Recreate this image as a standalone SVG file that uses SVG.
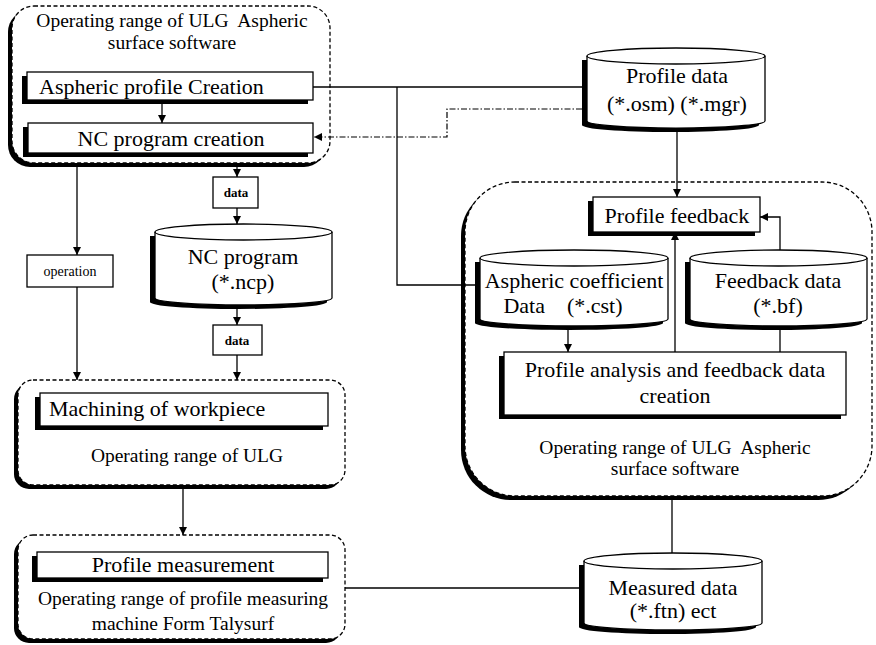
<svg xmlns="http://www.w3.org/2000/svg" width="876" height="645" viewBox="0 0 876 645">
<defs>
<marker id="arr" viewBox="0 0 10 10" refX="10" refY="5" markerWidth="8" markerHeight="8" markerUnits="userSpaceOnUse" orient="auto">
<path d="M0,0 L10,5 L0,10 Z" fill="#000"/>
</marker>
<style>
text{font-family:"Liberation Serif","Times New Roman",serif;fill:#000}
.big{font-size:22px}
.lab{font-size:19.5px}
.sm{font-size:14px}
.tag{font-size:13px;font-weight:bold}
.shadow{fill:#000}
.box{fill:#fff;stroke:#000;stroke-width:1.3}
.cont{fill:#fff;stroke:#000;stroke-width:1.3;stroke-dasharray:4 2.5}
.ln{fill:none;stroke:#000;stroke-width:1.3}
.dd{fill:none;stroke:#000;stroke-width:1.2;stroke-dasharray:6 2 1.5 2}
</style>
</defs>
<rect width="876" height="645" fill="#fff"/>

<g id="container-top">
<rect class="shadow" x="8" y="10" width="318" height="157" rx="22"/>
<rect class="cont" x="12" y="6" width="318" height="157" rx="22"/>
<text class="lab" x="172" y="27" text-anchor="middle" xml:space="preserve">Operating range of ULG  Aspheric</text>
<text class="lab" x="172" y="49" text-anchor="middle">surface software</text>
</g>
<g id="aspheric-profile-creation">
<rect class="shadow" x="22" y="76" width="286" height="28"/>
<rect class="box" x="27" y="72" width="286" height="28"/>
<text class="big" x="39" y="94">Aspheric profile Creation</text>
</g>
<g id="nc-program-creation">
<rect class="shadow" x="23" y="127" width="285" height="30"/>
<rect class="box" x="28" y="123" width="285" height="30"/>
<text class="big" x="171" y="146" text-anchor="middle">NC program creation</text>
</g>
<g id="operation">
<rect class="box" x="27" y="255" width="86" height="32"/>
<text class="sm" x="70" y="276" text-anchor="middle">operation</text>
</g>
<g id="data1">
<rect class="box" x="213" y="177" width="45" height="31"/>
<text class="tag" x="236" y="197" text-anchor="middle">data</text>
</g>
<g id="nc-program">
<path class="shadow" d="M150,236 V302 A88.5,7 0 0 0 327,302 V236 Z"/>
<path class="box" d="M155,232 V298 A88.5,7 0 0 0 332,298 V232 A88.5,8 0 0 0 155,232 Z"/>
<path class="ln" d="M155,232 A88.5,8 0 0 0 332,232"/>
<text class="big" x="243" y="264" text-anchor="middle">NC program</text>
<text class="big" x="243" y="289" text-anchor="middle">(*.ncp)</text>
</g>
<g id="data2">
<rect class="box" x="213" y="325" width="49" height="30"/>
<text class="tag" x="237" y="345" text-anchor="middle">data</text>
</g>
<g id="container-ulg">
<rect class="shadow" x="14" y="384" width="327" height="105" rx="15"/>
<rect class="cont" x="18" y="380" width="327" height="105" rx="15"/>
<text class="lab" x="187" y="462" text-anchor="middle">Operating range of ULG</text>
</g>
<g id="machining">
<rect class="shadow" x="35" y="397" width="288" height="33"/>
<rect class="box" x="40" y="393" width="288" height="33"/>
<text class="big" x="49" y="416">Machining of workpiece</text>
</g>
<g id="container-measure">
<rect class="shadow" x="14" y="539" width="327" height="104" rx="15"/>
<rect class="cont" x="18" y="535" width="327" height="104" rx="15"/>
<text class="lab" x="183" y="605" text-anchor="middle">Operating range of profile measuring</text>
<text class="lab" x="183" y="630" text-anchor="middle">machine Form Talysurf</text>
</g>
<g id="profile-measurement">
<rect class="shadow" x="32" y="556" width="291" height="26"/>
<rect class="box" x="37" y="552" width="291" height="26"/>
<text class="big" x="183" y="572" text-anchor="middle">Profile measurement</text>
</g>
<g id="profile-data">
<path class="shadow" d="M582,60 V125 A88.5,7 0 0 0 759,125 V60 Z"/>
<path class="box" d="M587,56 V121 A88.5,7 0 0 0 765,121 V56 A89,8 0 0 0 587,56 Z"/>
<path class="ln" d="M587,56 A89,8 0 0 0 765,56"/>
<text class="big" x="677" y="83" text-anchor="middle">Profile data</text>
<text class="big" x="677" y="111" text-anchor="middle">(*.osm) (*.mgr)</text>
</g>
<g id="container-right">
<rect class="shadow" x="461" y="186" width="407" height="314" rx="50"/>
<rect class="cont" x="465" y="182" width="407" height="314" rx="50"/>
<text class="lab" x="675" y="454" text-anchor="middle" xml:space="preserve">Operating range of ULG  Aspheric</text>
<text class="lab" x="675" y="475" text-anchor="middle">surface software</text>
</g>
<g id="profile-feedback">
<rect class="shadow" x="588" y="201" width="167" height="35"/>
<rect class="box" x="593" y="197" width="167" height="35"/>
<text class="big" x="677" y="223" text-anchor="middle">Profile feedback</text>
</g>
<g id="aspheric-coefficient">
<path class="shadow" d="M475,262 V323 A94,7 0 0 0 663,323 V262 Z"/>
<path class="box" d="M480,258 V319 A94,7 0 0 0 668,319 V258 A94,8 0 0 0 480,258 Z"/>
<path class="ln" d="M480,258 A94,8 0 0 0 668,258"/>
<text class="big" x="574" y="288" text-anchor="middle">Aspheric coefficient</text>
<text class="big" x="563" y="313" text-anchor="middle" xml:space="preserve">Data    (*.cst)</text>
</g>
<g id="feedback-data">
<path class="shadow" d="M685,262 V323 A88.5,7 0 0 0 862,323 V262 Z"/>
<path class="box" d="M690,258 V319 A88.5,7 0 0 0 867,319 V258 A88.5,8 0 0 0 690,258 Z"/>
<path class="ln" d="M690,258 A88.5,8 0 0 0 867,258"/>
<text class="big" x="778" y="288" text-anchor="middle">Feedback data</text>
<text class="big" x="778" y="313" text-anchor="middle">(*.bf)</text>
</g>
<g id="profile-analysis">
<rect class="shadow" x="499" y="356" width="342" height="63"/>
<rect class="box" x="504" y="352" width="342" height="63"/>
<text class="big" x="675" y="377" text-anchor="middle">Profile analysis and feedback data</text>
<text class="big" x="675" y="403" text-anchor="middle">creation</text>
</g>
<g id="measured-data">
<path class="shadow" d="M579,565 V627 A88.5,7 0 0 0 756,627 V565 Z"/>
<path class="box" d="M584,561 V623 A89,7 0 0 0 762,623 V561 A89,8 0 0 0 584,561 Z"/>
<path class="ln" d="M584,561 A89,8 0 0 0 762,561"/>
<text class="big" x="673" y="595" text-anchor="middle">Measured data</text>
<text class="big" x="673" y="618" text-anchor="middle">(*.ftn) ect</text>
</g>

<g id="connectors">
<path class="ln" d="M162,100 V123" marker-end="url(#arr)"/>
<path class="ln" d="M313,87 H583"/>
<path class="ln" d="M397,87 V285 H475"/>
<path class="dd" d="M582,109 H447 V137 H314" marker-end="url(#arr)"/>
<path class="ln" d="M77,167 V255" marker-end="url(#arr)"/>
<path class="ln" d="M77,287 V380" marker-end="url(#arr)"/>
<path class="ln" d="M237,167 V177" marker-end="url(#arr)"/>
<path class="ln" d="M237,208 V224" marker-end="url(#arr)"/>
<path class="ln" d="M237,306 V325" marker-end="url(#arr)"/>
<path class="ln" d="M237,355 V380" marker-end="url(#arr)"/>
<path class="ln" d="M183,489 V535" marker-end="url(#arr)"/>
<path class="ln" d="M345,588 H579"/>
<path class="ln" d="M672,500 V553"/>
<path class="ln" d="M677,129 V197" marker-end="url(#arr)"/>
<path class="ln" d="M568,327 V352" marker-end="url(#arr)"/>
<path class="ln" d="M675,352 V232" marker-end="url(#arr)"/>
<path class="ln" d="M780,250 V217 H760" marker-end="url(#arr)"/>
<path class="ln" d="M780,326 V352"/>
</g>
</svg>
